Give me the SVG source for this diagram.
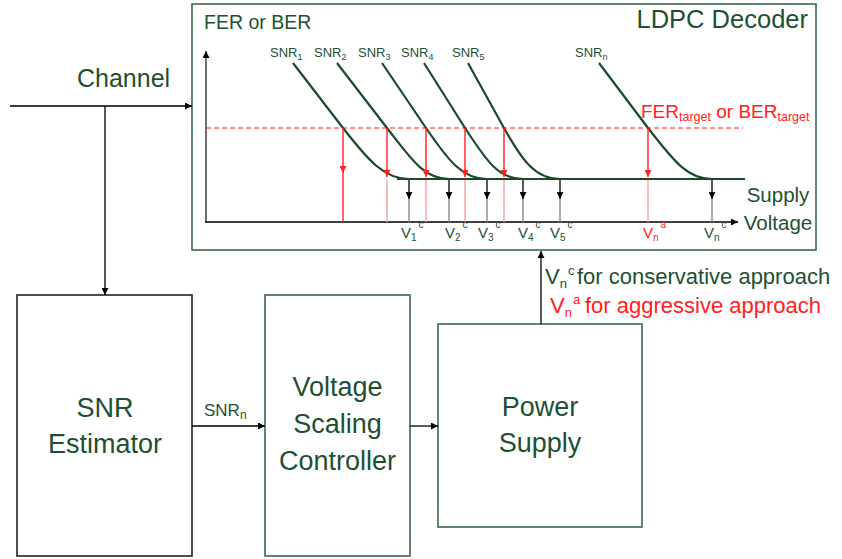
<svg xmlns="http://www.w3.org/2000/svg" width="842" height="559" viewBox="0 0 842 559">
<defs>
<style>
.t{font-family:"Liberation Sans",Arial,sans-serif;fill:#1d5032}
.r{font-family:"Liberation Sans",Arial,sans-serif;fill:#ff2020}
.box{fill:#fff;stroke:#3a6a48;stroke-width:1.6}
.kbox{fill:#fff;stroke:#222;stroke-width:1.6}
.curve{fill:none;stroke:#1a4a2a;stroke-width:2.2}
.conn{fill:none;stroke:#000;stroke-width:1.3}
.red{fill:none;stroke:#ff2020;stroke-width:1.4}
.pink{fill:none;stroke:#f7a0a0;stroke-width:1.4}
.gray{fill:none;stroke:#888;stroke-width:1.4}
.big{font-size:27px}
</style>
<marker id="ah" viewBox="0 0 10 10" refX="10" refY="5" markerWidth="7" markerHeight="7" markerUnits="userSpaceOnUse" orient="auto"><path d="M0,0 L10,5 L0,10 z" fill="#000"/></marker>
<marker id="ahr" viewBox="0 0 10 10" refX="10" refY="5" markerWidth="7" markerHeight="7" markerUnits="userSpaceOnUse" orient="auto"><path d="M0,0 L10,5 L0,10 z" fill="#ff2020"/></marker>
</defs>
<rect width="842" height="559" fill="#fff"/>

<g id="ldpc-decoder">
<rect class="box" x="192" y="4" width="624" height="246"/>
<text class="t" x="808" y="28" font-size="25.5" text-anchor="end">LDPC Decoder</text>
<text class="t" x="204" y="29" font-size="19.5">FER or BER</text>
<!-- axes -->
<path d="M206,222 L206,51" fill="none" stroke="#333" stroke-width="1.4" marker-end="url(#ah)"/>
<path d="M205,222 L738,222" fill="none" stroke="#000" stroke-width="1.4" marker-end="url(#ah)"/>
<!-- target line -->
<path d="M206,128 L743,128" fill="none" stroke="#ff2020" stroke-width="1" stroke-dasharray="5,3"/>
<!-- curves -->
<path class="curve" d="M397,179 L745,179" stroke-width="2.6"/>
<path class="curve" d="M293,63 L343,128 C368,160 384,179 409,179"/>
<path class="curve" d="M337,63 L387,128 C412,160 424,179 449,179"/>
<path class="curve" d="M382,63 L426,128 C448,160 462,179 487,179"/>
<path class="curve" d="M424,63 L465,128 C486,160 498,179 523,179"/>
<path class="curve" d="M468,63 L504,128 C522,160 535,179 560,179"/>
<path class="curve" d="M599,63 L648,128 C673,160 687,179 712,179"/>
<!-- red arrows -->
<path class="red" d="M343,128 L343,173" marker-end="url(#ahr)"/>
<path class="red" d="M343,172 L343,222"/>
<path class="red" d="M387,128 L387,177" marker-end="url(#ahr)"/>
<path class="pink" d="M387,180 L387,222"/>
<path class="red" d="M426,128 L426,177" marker-end="url(#ahr)"/>
<path class="pink" d="M426,180 L426,222"/>
<path class="red" d="M465,128 L465,177" marker-end="url(#ahr)"/>
<path class="pink" d="M465,180 L465,222"/>
<path class="red" d="M504,128 L504,177" marker-end="url(#ahr)"/>
<path class="pink" d="M504,180 L504,222"/>
<path class="red" d="M648,128 L648,177" marker-end="url(#ahr)"/>
<path class="pink" d="M648,180 L648,222"/>
<!-- black arrows -->
<g>
<path class="conn" d="M409,180 L409,199" marker-end="url(#ah)"/><path class="gray" d="M409,199 L409,222"/>
<path class="conn" d="M449,180 L449,199" marker-end="url(#ah)"/><path class="gray" d="M449,199 L449,222"/>
<path class="conn" d="M487,180 L487,199" marker-end="url(#ah)"/><path class="gray" d="M487,199 L487,222"/>
<path class="conn" d="M523,180 L523,199" marker-end="url(#ah)"/><path class="gray" d="M523,199 L523,222"/>
<path class="conn" d="M560,180 L560,199" marker-end="url(#ah)"/><path class="gray" d="M560,199 L560,222"/>
<path class="conn" d="M712,180 L712,199" marker-end="url(#ah)"/><path class="gray" d="M712,199 L712,222"/>
</g>
<!-- SNR labels -->
<g font-size="13">
<text class="t" x="270" y="57">SNR<tspan font-size="9" dy="3">1</tspan></text>
<text class="t" x="314" y="57">SNR<tspan font-size="9" dy="3">2</tspan></text>
<text class="t" x="358" y="57">SNR<tspan font-size="9" dy="3">3</tspan></text>
<text class="t" x="401" y="57">SNR<tspan font-size="9" dy="3">4</tspan></text>
<text class="t" x="452" y="57">SNR<tspan font-size="9" dy="3">5</tspan></text>
<text class="t" x="575" y="57">SNR<tspan font-size="9" dy="3">n</tspan></text>
</g>
<text class="r" x="641" y="118" font-size="19">FER<tspan font-size="12.5" dy="3">target</tspan><tspan dy="-3"> or BER</tspan><tspan font-size="12.5" dy="3">target</tspan></text>
<!-- V labels -->
<g font-size="15">
<text class="t" x="401" y="238">V<tspan font-size="10" dy="3">1</tspan><tspan font-size="10" dx="2" dy="-13">c</tspan></text>
<text class="t" x="445" y="238">V<tspan font-size="10" dy="3">2</tspan><tspan font-size="10" dx="2" dy="-13">c</tspan></text>
<text class="t" x="478" y="238">V<tspan font-size="10" dy="3">3</tspan><tspan font-size="10" dx="2" dy="-13">c</tspan></text>
<text class="t" x="518" y="238">V<tspan font-size="10" dy="3">4</tspan><tspan font-size="10" dx="2" dy="-13">c</tspan></text>
<text class="t" x="550" y="238">V<tspan font-size="10" dy="3">5</tspan><tspan font-size="10" dx="2" dy="-13">c</tspan></text>
<text class="r" x="643" y="238">V<tspan font-size="10" dy="3">n</tspan><tspan font-size="10" dx="2" dy="-13">a</tspan></text>
<text class="t" x="704" y="238">V<tspan font-size="10" dy="3">n</tspan><tspan font-size="10" dx="2" dy="-13">c</tspan></text>
</g>
<text class="t" x="778" y="202" font-size="20.5" text-anchor="middle">Supply</text>
<text class="t" x="778" y="230" font-size="20.5" text-anchor="middle">Voltage</text>
</g>

<g id="snr-estimator">
<rect class="kbox" x="17" y="295" width="175" height="261"/>
<text class="t big" x="105" y="417" text-anchor="middle">SNR</text>
<text class="t big" x="105" y="453" text-anchor="middle">Estimator</text>
</g>

<g id="voltage-scaling-controller">
<rect class="box" x="265" y="295" width="145" height="261"/>
<text class="t big" x="337.5" y="396" text-anchor="middle">Voltage</text>
<text class="t big" x="337.5" y="433" text-anchor="middle">Scaling</text>
<text class="t big" x="337.5" y="470" text-anchor="middle">Controller</text>
</g>

<g id="power-supply">
<rect class="box" x="438" y="324" width="204" height="203"/>
<text class="t big" x="540" y="416" text-anchor="middle">Power</text>
<text class="t big" x="540" y="452" text-anchor="middle">Supply</text>
</g>

<g id="connectors">
<path class="conn" d="M10,106 L192,106" marker-end="url(#ah)"/>
<path class="conn" d="M105,106 L105,295" marker-end="url(#ah)"/>
<path class="conn" d="M192,426 L265,426" marker-end="url(#ah)"/>
<path class="conn" d="M410,426 L438,426" marker-end="url(#ah)"/>
<path class="conn" d="M541,324 L541,251" marker-end="url(#ah)"/>
<text class="t" x="77" y="87" font-size="25">Channel</text>
<text class="t" x="204" y="416" font-size="17">SNR<tspan font-size="12" dy="3">n</tspan></text>
<text class="t" x="545" y="284" font-size="22">V<tspan font-size="13" dy="4">n</tspan><tspan font-size="13" dx="1" dy="-13">c</tspan></text>
<text class="t" x="577" y="284" font-size="22">for conservative approach</text>
<text class="r" x="550" y="313" font-size="22">V<tspan font-size="13" dy="4">n</tspan><tspan font-size="13" dx="1" dy="-13">a</tspan></text>
<text class="r" x="585" y="313" font-size="22">for aggressive approach</text>
</g>
</svg>
